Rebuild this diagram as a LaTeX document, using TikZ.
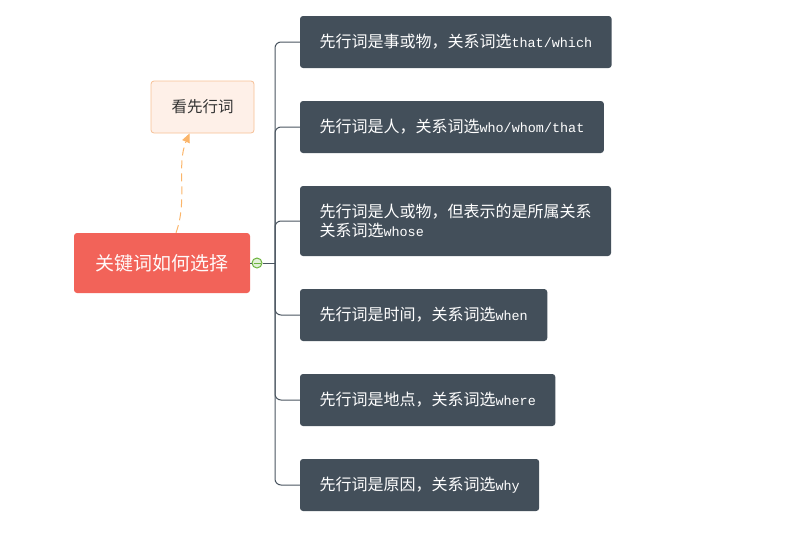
\documentclass[tikz,border=0pt]{standalone}
\usepackage{fontspec}
\setmainfont{Noto Sans CJK SC}
\newfontfamily\monofont{Liberation Mono}[Scale=0.84]
\usepackage{tikz}
\usetikzlibrary{arrows.meta,%
                shapes,positioning}
\definecolor{salmon}{HTML}{F26359}
\definecolor{slate}{HTML}{434F5A}
\definecolor{peach}{HTML}{FEF0E8}
\definecolor{peachline}{HTML}{F6C095}
\definecolor{dashorange}{HTML}{FBB56A}
\definecolor{spine}{HTML}{4A5560}
\definecolor{knobgreen}{HTML}{6EB43F}
\newcommand{\mono}[1]{{\monofont #1}}

\begin{document}
\begin{tikzpicture}[x = 1pt, y = 1pt, node distance = 33pt]
  \useasboundingbox (0,0) rectangle (800,-538);
  \tikzset{RootStyle/.style   = {shape          = rectangle,
                                 rounded corners = 3pt,
                                 fill           = salmon,
                                 text           = white!90!pink,
                                 minimum width  = 176pt,
                                 minimum height = 60pt,
                                 font           = \fontsize{19pt}{22pt}\selectfont}}
  \tikzset{HintStyle/.style   = {shape          = rectangle,
                                 rounded corners = 3pt,
                                 draw           = peachline,
                                 line width     = 0.8pt,
                                 fill           = peach,
                                 text           = black!80,
                                 minimum width  = 103pt,
                                 minimum height = 52pt,
                                 font           = \fontsize{15.5pt}{18pt}\selectfont}}
  \tikzset{LeafStyle/.style   = {shape          = rectangle,
                                 rounded corners = 3pt,
                                 fill           = slate,
                                 text           = white,
                                 align          = left,
                                 inner xsep     = 19.5pt,
                                 outer sep      = 0pt,
                                 minimum height = 52pt,
                                 font           = \fontsize{16pt}{19pt}\selectfont}}
  \tikzset{KnobStyle/.style   = {shape          = circle,
                                 draw           = knobgreen,
                                 line width     = 1pt,
                                 fill           = knobgreen!20,
                                 inner sep      = 0pt,
                                 minimum size   = 10pt}}
  \tikzset{EdgeStyle/.style   = {draw           = spine,
                                 line width     = 1pt}}
  \tikzset{LinkStyle/.style   = {draw           = dashorange,
                                 line width     = 1pt,
                                 dash pattern   = on 8pt off 5pt,
                                 -{Triangle[length=9pt, width=8pt]}}}
     \node[RootStyle] (Root) at (162,-263) {关键词如何选择};
     \node[HintStyle] (Hint) at (202.5,-107) {看先行词};
     \node[KnobStyle] (Knob) at (257,-263) {};
     \coordinate (Spine) at (275,-263);
     \node[LeafStyle, anchor = north west] (Thing) at (300,-16)
          {先行词是事或物，关系词选\mono{that/which}};
     \node[LeafStyle, below = of Thing.south west, anchor = north west] (Person)
          {先行词是人，关系词选\mono{who/whom/that}};
     \node[LeafStyle, below = of Person.south west, anchor = north west,
           minimum height = 70pt] (Whose)
          {先行词是人或物，但表示的是所属关系\\关系词选\mono{whose}};
     \node[LeafStyle, below = of Whose.south west, anchor = north west] (Time)
          {先行词是时间，关系词选\mono{when}};
     \node[LeafStyle, below = of Time.south west, anchor = north west] (Place)
          {先行词是地点，关系词选\mono{where}};
     \node[LeafStyle, below = of Place.south west, anchor = north west] (Reason)
          {先行词是原因，关系词选\mono{why}};
     % branches
     \draw[EdgeStyle] (Root.east) -- (Knob.west);
     \draw[EdgeStyle] (Knob.east) -- (Spine);
     \draw[knobgreen, line width = 1pt] ([xshift=-3.5pt]Knob.center) -- ([xshift=3.5pt]Knob.center);
     \foreach \leaf in {Thing,Person,Whose,Time,Place,Reason}
       \draw[EdgeStyle, rounded corners = 6pt] (Spine) |- (\leaf.west);
     \draw[LinkStyle] ([xshift=14pt]Root.north) .. controls (188,-200) and (176,-165) .. ([xshift=-13pt]Hint.south);
  \end{tikzpicture}
\end{document}
